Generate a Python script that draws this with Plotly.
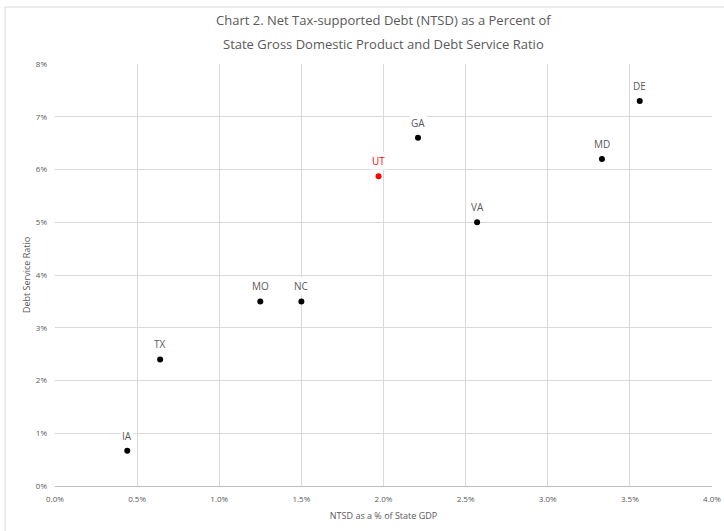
import plotly.graph_objects as go

states = ["IA", "TX", "MO", "NC", "UT", "GA", "VA", "MD", "DE"]
ntsd_pct = [0.44, 0.64, 1.25, 1.50, 1.97, 2.21, 2.57, 3.33, 3.56]
debt_service = [0.67, 2.4, 3.5, 3.5, 5.87, 6.6, 5.0, 6.2, 7.3]
colors = ["black" if s != "UT" else "#ff0000" for s in states]
label_colors = ["#595959" if s != "UT" else "#ff0000" for s in states]

x_ticks = [0, 0.5, 1.0, 1.5, 2.0, 2.5, 3.0, 3.5, 4.0]
y_ticks = [0, 1, 2, 3, 4, 5, 6, 7, 8]

title_lines = ["Chart 2. Net Tax-supported Debt (NTSD) as a Percent of",
               "State Gross Domestic Product and Debt Service Ratio"]

FONT = "Open Sans"

fig = go.Figure()
fig.add_trace(go.Scatter(
    x=ntsd_pct, y=debt_service, mode="markers",
    marker=dict(color=colors, size=6),
    hoverinfo="skip", showlegend=False,
))

for s, x, y, c in zip(states, ntsd_pct, debt_service, label_colors):
    fig.add_annotation(x=x, y=y, text=s, showarrow=False, yshift=15,
                       font=dict(family=FONT, size=10, color=c),
                       bgcolor="white", borderpad=1)

# title as two lines (Excel-like spacing)
for i, line in enumerate(title_lines):
    fig.add_annotation(xref="paper", yref="paper", x=(383 - 55) / 657,
                       y=(486 - (20 + 24 * i)) / 422, text=line,
                       showarrow=False, xanchor="center", yanchor="middle",
                       font=dict(family=FONT, size=13, color="#595959"))

fig.update_layout(
    width=724, height=531,
    margin=dict(l=55, r=12, t=64, b=45, autoexpand=False),
    paper_bgcolor="white", plot_bgcolor="white",
    xaxis=dict(
        range=[0, 4.0], tickvals=x_ticks,
        ticktext=[f"{v:.1f}%" for v in x_ticks],
        showgrid=True, gridcolor="#d9d9d9", gridwidth=1,
        zeroline=False, showline=True, linecolor="#bfbfbf",
        ticks="", ticklabelstandoff=5, automargin=False,
        tickfont=dict(family=FONT, size=8, color="#595959"),
        title=dict(text="NTSD as a % of State GDP", standoff=10,
                   font=dict(family=FONT, size=9, color="#595959")),
    ),
    yaxis=dict(
        range=[0, 8], tickvals=y_ticks,
        ticktext=[f"{v}%" for v in y_ticks],
        showgrid=True, gridcolor="#d9d9d9", gridwidth=1,
        zeroline=False, showline=False,
        ticks="", ticklabelstandoff=7, automargin=False,
        tickfont=dict(family=FONT, size=8, color="#595959"),
        title=dict(text="Debt Service Ratio", standoff=3,
                   font=dict(family=FONT, size=9, color="#595959")),
    ),
    shapes=[dict(type="rect", xref="paper", yref="paper",
                 x0=-0.076, x1=1.06, y0=-0.2, y1=1.135,
                 line=dict(color="#d9d9d9", width=1), layer="below")],
)

fig.write_html("out.html")
